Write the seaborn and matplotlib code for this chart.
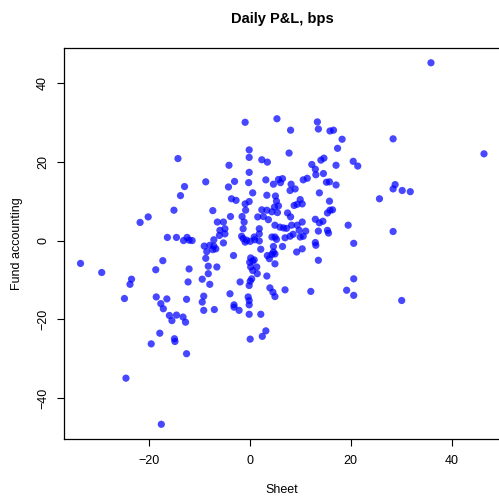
import numpy as np
import pandas as pd
import seaborn as sns
import matplotlib.pyplot as plt

# daily P&L in bps, sheet vs fund accounting
sheet = [
    -14.2, -0.9, 5.4, 8.1, 13.4, 13.6, 15.9, 16.6, 18.3, 17.4,
    -0.1, -0.1, 7.8, 2.4, 3.5, -4.1, 12.3, 14.1, 14.7, 17.1,
    20.5, -0.1, 13.0, 14.6, 13.1, 35.9, 28.4, 46.4, 21.4,
    -8.7, -12.9, -13.7, -15.0, -20.1, -21.7, -16.3, -14.5, -13.1, -12.4,
    -12.0, -11.4, -9.0, -8.5, -8.7, -17.2, -33.5, -29.3, -18.6, -12.0,
    -8.2, -8.2, -23.4, -23.7, -12.2, -9.4, -7.9, -24.8, -18.5, -16.4,
    -12.5, -9.1, -9.4, -17.6,
    -17.1, -9.1, -15.9, -14.5, -13.2, -15.4, -12.7, -17.8, -19.5, -14.9,
    -14.8, -12.5, -24.5, -17.5,
    -7.0, -3.1, -2.1, -0.1, 2.2, 3.2, 2.5, 0.1,
    28.8, 28.4, 30.2, 31.8, 25.7, 28.4, 20.6, 20.6, 20.6, 30.1,
    -3.0, -0.2, 3.2, 4.7, 5.7, 6.5, 6.1, 8.2, 8.0, 9.0,
    10.6, 11.4, 15.2, 15.8, 17.1, -4.2, 0.6, 3.4, 5.1, 13.8,
    -3.6, -2.7, -0.1, -0.9, 5.3, 5.7, 4.9, 8.8, 9.4, 10.0,
    10.4, 15.8, -7.3, -0.8, 2.4, 3.4, 4.4, 5.5, 7.5, 8.1,
    15.4, 15.9, 16.4, -3.8, -1.5, 1.6, 2.7, 3.7, -6.4, -5.2,
    -1.1, 10.4, 13.0, 13.8, 14.5, 19.5, 5.0, 6.0, 6.7, 7.3,
    8.3, 9.4, 9.8, -4.9, -5.9, -1.3, 1.9, 11.1, 13.6, 15.4,
    15.6, -6.0, -4.9, -1.6, -1.3, -0.6, 0.9, 1.9, 4.4, 5.0,
    5.3, 7.0, 8.0, 8.6, 10.0, 10.6, -7.1, -5.2, -0.9, 0.1,
    1.0, 1.9, 13.0, 13.1, -7.9, -7.1, 4.7, 6.5, 10.4, 2.2,
    -7.3, -6.7, 4.7, 9.3, -3.2, 3.5, 4.4, 5.0, 3.9, 0.2,
    0.9, 0.0, 0.6, 5.0, 13.6, -6.5, 0.2, 1.4, 0.6, 1.5,
    3.4, -1.9, 0.1, 0.4, -0.1, 4.0, 4.6, 5.0, 7.0, 12.1,
    -3.9, -0.3, -0.1, -3.1, -0.1, 19.2,
]
fund = [
    20.8, 30.0, 30.9, 28.0, 30.1, 28.3, 27.8, 28.0, 25.7, 23.4,
    23.0, 21.1, 22.2, 20.5, 19.9, 19.1, 19.3, 20.4, 20.9, 19.1,
    20.1, 17.3, 18.1, 17.0, 16.7, 45.1, 25.8, 22.0, 18.9,
    14.9, 13.7, 11.4, 7.7, 6.0, 4.6, 0.8, 0.8, 0.0, 0.8,
    0.1, 0.0, -1.4, -2.8, -4.5, -5.1, -5.8, -8.1, -7.4, -7.2,
    -6.5, -8.4, -9.8, -11.1, -10.5, -9.8, -11.1, -14.7, -14.3, -14.8,
    -14.9, -14.1, -15.6, -16.0,
    -17.3, -17.7, -19.0, -18.9, -19.4, -20.3, -20.7, -23.5, -26.2, -24.9,
    -25.6, -28.7, -34.9, -46.6,
    -17.5, -16.9, -17.7, -18.7, -18.7, -22.9, -24.3, -25.0,
    14.2, 13.1, 12.7, 12.4, 10.6, 2.3, -0.7, -9.7, -13.9, -15.2,
    15.0, 14.7, 15.4, 14.3, 15.5, 15.7, 14.7, 14.3, 12.7, 13.1,
    15.4, 15.8, 14.8, 14.9, 14.1, 13.6, 12.1, 11.5, 11.3, 12.1,
    10.6, 10.2, 9.9, 9.3, 10.0, 8.8, 8.5, 8.9, 9.2, 10.4,
    9.3, 10.0, 7.6, 7.7, 7.8, 7.7, 7.3, 7.1, 7.0, 6.0,
    7.0, 7.7, 7.8, 6.1, 6.1, 6.0, 6.1, 5.3, 4.7, 4.7,
    4.7, 4.7, 5.4, 4.5, 4.9, 3.9, 3.9, 3.4, 3.2, 3.1,
    3.9, 3.9, 2.6, 3.0, 2.6, 3.0, 3.0, 2.4, 2.4, 2.6,
    1.9, 1.3, 1.7, 1.1, 0.5, 0.1, 0.9, 1.7, 0.9, 0.9,
    0.3, 0.7, 1.1, 1.6, 0.9, 1.1, 0.2, -0.6, -0.4, -0.2,
    0.2, -0.1, -0.5, -1.2, -1.2, -1.4, -1.5, -1.5, -2.1, -2.2,
    -2.3, -2.1, -2.9, -2.9, -3.8, -3.8, -3.5, -3.4, -4.6, -4.4,
    -4.9, -5.5, -5.2, -5.9, -5.0, -6.7, -6.7, -6.7, -7.6, -8.4,
    -9.0, -10.5, -10.3, -9.7, -11.4, -12.0, -13.1, -14.2, -12.5, -12.9,
    -13.5, -14.3, -15.2, -16.3, -16.3, -12.6,
]

title = "Daily P&L, bps"
x_label = "Sheet"
y_label = "Fund accounting"
x_ticks = [-20, 0, 20, 40]
y_ticks = [-40, -20, 0, 20, 40]


def pad_range(vals, frac=0.04):
    # R style axis range: data range widened by 4% on each side
    lo, hi = min(vals), max(vals)
    d = (hi - lo) * frac
    return lo - d, hi + d


def plot_pnl(outfile="out.png"):
    df = pd.DataFrame({"sheet": sheet, "fund": fund})

    sns.set_style("ticks")
    plt.rcParams["font.family"] = ["Liberation Sans", "DejaVu Sans"]

    fig = plt.figure(figsize=(4.99, 4.98), dpi=100)
    ax = fig.add_axes([0.129, 0.119, 0.8733, 0.784])

    sns.scatterplot(data=df, x="sheet", y="fund", ax=ax, color="blue",
                    alpha=0.72, s=27, edgecolor="none", linewidth=0)

    ax.set_xlim(*pad_range(sheet))
    ax.set_ylim(*pad_range(fund))
    ax.set_xticks(x_ticks)
    ax.set_yticks(y_ticks)
    ax.set_xticklabels([str(t).replace("-", "\u2212") for t in x_ticks])
    ax.set_yticklabels([str(t).replace("-", "\u2212") for t in y_ticks])

    # box round the plot, like base R
    for sp in ax.spines.values():
        sp.set_visible(True)
        sp.set_color("black")
        sp.set_linewidth(0.9)

    ax.tick_params(axis="both", direction="out", length=5, width=0.8,
                   color="black", labelsize=9, labelcolor="black")
    ax.tick_params(axis="x", pad=7)
    ax.tick_params(axis="y", pad=6)
    for lab in ax.get_yticklabels():
        lab.set_rotation(90)
        lab.set_va("center")

    ax.set_xlabel(x_label, fontsize=9, labelpad=12, color="black")
    ax.set_ylabel(y_label, fontsize=9, labelpad=10, color="black")
    ax.set_title(title, fontsize=10.5, fontweight="bold", pad=18, color="black")

    fig.savefig(outfile, dpi=100)
    plt.close(fig)


if __name__ == "__main__":
    plot_pnl()
